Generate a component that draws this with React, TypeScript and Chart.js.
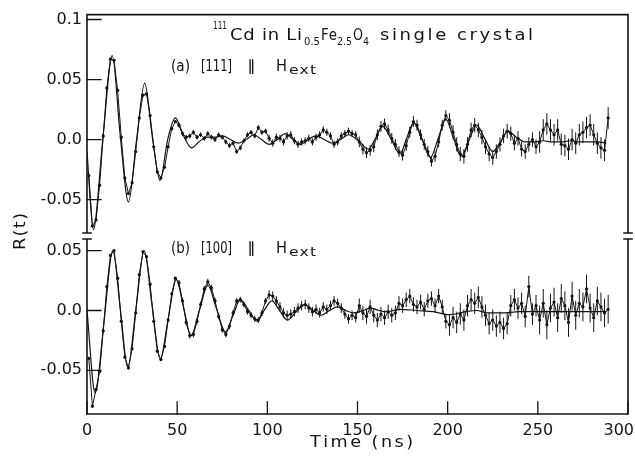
import React, { useEffect, useRef } from "react";
import { Chart, registerables } from "chart.js";

Chart.register(...registerables);

// ---------- axes ----------
const X_TICKS = [0, 50, 100, 150, 200, 250, 300];
const X_TICK_LABELS = ["0", "50", "100", "150", "200", "250", "300"];
const Y_TICKS_A = [-0.05, 0, 0.05, 0.1];
const Y_TICK_LABELS_A = ["-0.05", "0.0", "0.05", "0.1"];
const Y_TICKS_B = [-0.05, 0, 0.05];
const Y_TICK_LABELS_B = ["-0.05", "0.0", "0.05"];

// ---------- measured data: time grid (ns) ----------
const DATA_T_START = 1;
const DATA_T_STEP = 2;

// (a) [111] || Hext  — measured R(t)
const dataA = [
  -0.030, -0.072, -0.067, -0.038, 0.003, 0.043, 0.067, 0.066, 0.041, 0.002,
  -0.032, -0.045, -0.036, -0.010, 0.018, 0.037, 0.038, 0.020, -0.006, -0.027,
  -0.032, -0.023, -0.006, 0.009, 0.015, 0.012, 0.005, 0.002, 0.003, 0.006,
  0.002, 0.004, 0.001, 0.005, 0.002, 0.000, 0.004, 0.002, -0.002, -0.005,
  -0.003, -0.010, -0.007, -0.001, 0.004, 0.006, 0.003, 0.010, 0.006, 0.007,
  0.001, -0.003, 0.002, 0.001, -0.002, 0.003, 0.004, -0.001, -0.004, -0.002,
  -0.001, 0.001, -0.002, 0.002, 0.004, 0.008, 0.006, 0.003, -0.004, -0.002,
  0.003, 0.005, 0.007, 0.005, 0.004, -0.002, -0.008, -0.011, -0.009, -0.006,
  0.004, 0.011, 0.013, 0.008, 0.001, -0.004, -0.010, -0.013, -0.005, 0.006,
  0.015, 0.012, 0.004, -0.004, -0.010, -0.018, -0.014, -0.002, 0.012, 0.020,
  0.016, 0.006, -0.004, -0.012, -0.014, -0.004, 0.008, 0.012, 0.008, 0.002,
  -0.006, -0.012, -0.015, -0.010, -0.004, 0.003, 0.007, 0.005, -0.003, 0.001,
  -0.008, -0.010, -0.004, 0.000, -0.006, -0.002, 0.008, 0.013, 0.008, 0.004,
  0.008, -0.004, -0.005, -0.008, 0.000, -0.003, 0.004, 0.006, 0.010, 0.012,
  0.004, -0.003, -0.007, -0.009, 0.018,
];

// (b) [100] || Hext  — measured R(t)
const dataB = [
  -0.040, -0.080, -0.066, -0.051, -0.017, 0.020, 0.046, 0.050, 0.027, -0.009,
  -0.039, -0.048, -0.032, -0.002, 0.030, 0.049, 0.045, 0.022, -0.009, -0.034,
  -0.041, -0.030, -0.008, 0.014, 0.027, 0.023, 0.008, -0.010, -0.021, -0.020,
  -0.009, 0.005, 0.018, 0.024, 0.019, 0.008, -0.005, -0.016, -0.020, -0.013,
  -0.002, 0.008, 0.009, 0.005, -0.001, -0.004, -0.007, -0.008, -0.002, 0.008,
  0.013, 0.012, 0.008, 0.003, -0.002, -0.004, -0.003, -0.001, 0.002, 0.004,
  0.005, 0.002, -0.001, 0.001, -0.002, 0.003, 0.001, 0.004, 0.008, 0.006,
  0.002, -0.003, -0.007, -0.004, -0.006, 0.004, -0.002, -0.005, 0.003, -0.004,
  -0.008, -0.003, -0.006, -0.001, -0.004, -0.002, 0.006, 0.004, 0.009, 0.012,
  0.005, 0.003, 0.007, 0.001, 0.008, 0.010, 0.004, 0.012, 0.003, -0.009,
  -0.012, -0.006, -0.010, -0.003, -0.008, 0.004, 0.009, 0.006, 0.011, 0.003,
  -0.004, -0.011, -0.008, -0.013, -0.010, -0.015, -0.011, 0.004, 0.009, 0.002,
  0.006, -0.005, 0.020, -0.003, 0.004, -0.008, 0.006, -0.012, 0.002, 0.007,
  -0.006, 0.010, 0.004, -0.010, 0.012, -0.004, 0.006, 0.003, 0.018, 0.002,
  -0.006, 0.008, 0.003, -0.002, 0.001,
];

// error-bar half widths per 50 ns time bin
const ERR_BIN_EDGES = [0, 50, 100, 150, 200, 250];
const errA = [0.0012, 0.002, 0.003, 0.0045, 0.006, 0.009];
const errB = [0.0012, 0.0025, 0.004, 0.006, 0.009, 0.012];

// ---------- fitted curves (key points) ----------
const fitAT = [
  0, 3.5, 8.75, 14, 18.5, 23, 27.5, 32, 36.25, 40.5, 44.75, 49, 53.25, 58, 62,
  66.5, 70.5, 75, 79.5, 84, 88.25, 92.5, 96.75, 101, 105.5, 110, 114.25, 118.5,
  122.75, 127, 131.5, 136, 140.5, 145, 150.5, 156, 160, 164, 168.75, 173.5,
  177.25, 181, 185.75, 190.5, 194.75, 199, 203.25, 207.5, 211.75, 216, 220.5,
  225, 229.25, 233.5, 238, 243, 248, 253, 258, 263, 268, 273, 278, 283, 288,
];
const fitAR = [
  -0.010, -0.075, 0.000, 0.070, 0.002, -0.052, 0.000, 0.047, 0.002, -0.034,
  0.000, 0.018, 0.004, -0.007, -0.002, 0.002, 0.002, 0.003, 0.000, -0.003,
  0.000, 0.004, 0.000, -0.004, 0.000, 0.005, 0.000, -0.004, 0.000, 0.003,
  0.000, -0.003, 0.000, 0.004, -0.001, -0.008, 0.001, 0.011, 0.000, -0.012,
  0.001, 0.014, 0.000, -0.015, 0.001, 0.017, 0.001, -0.014, -0.001, 0.012,
  0.001, -0.010, -0.002, 0.007, 0.002, -0.002, -0.002, -0.001, -0.002, -0.002,
  -0.001, -0.002, -0.002, -0.002, -0.003,
];
const fitBT = [
  0, 4.5, 9.4, 14.3, 18.5, 22.6, 27.1, 31.7, 36.1, 40.6, 45, 49.5, 53.6, 57.7,
  62.3, 67, 71.9, 76.8, 81, 85, 89.7, 94.4, 98.2, 102.5, 106.8, 111, 116, 121,
  125.5, 130, 134.5, 139, 143.5, 148, 153, 157, 162, 166, 174, 183, 192, 201,
  210, 216, 222, 230, 240, 250, 260, 270, 280, 288,
];
const fitBR = [
  0.000, -0.069, -0.010, 0.050, 0.001, -0.048, 0.001, 0.050, 0.004, -0.041,
  -0.007, 0.026, 0.002, -0.021, 0.000, 0.021, 0.001, -0.018, -0.004, 0.009,
  0.000, -0.009, 0.000, 0.008, 0.000, -0.008, -0.001, 0.005, 0.000, -0.004,
  0.000, 0.003, 0.000, -0.002, 0.000, 0.002, 0.000, -0.001, 0.001, 0.000,
  -0.001, -0.0035, -0.001, 0.000, -0.002, -0.002, -0.001, -0.001, -0.001,
  -0.001, -0.001, -0.001,
];

const INK = "#141414";
const FONT = "'DejaVu Sans', sans-serif";

// draw text horizontally stretched (sx) and letter-spaced to fill a given width
function drawSpaced(ctx: CanvasRenderingContext2D, text: string, x: number, y: number, width: number, sxPref = 1) {
  const chars = Array.from(text);
  const ws = chars.map((c) => ctx.measureText(c).width);
  const total = ws.reduce((a, b) => a + b, 0);
  const sx = Math.min(sxPref, width / total);
  const gap = chars.length > 1 ? (width - total * sx) / (chars.length - 1) : 0;
  let cx = x;
  chars.forEach((c, i) => {
    ctx.save();
    ctx.translate(cx, y);
    ctx.scale(sx, 1);
    ctx.fillText(c, 0, 0);
    ctx.restore();
    cx += ws[i] * sx + gap;
  });
}

export default function App() {
  const ref = useRef<HTMLCanvasElement>(null);

  useEffect(() => {
    const canvas = ref.current!;
    const toPts = (vals: number[]) => vals.map((v, i) => ({ x: DATA_T_START + i * DATA_T_STEP, y: v }));
    const fitPts = (ts: number[], rs: number[]) => ts.map((t, i) => ({ x: t, y: rs[i] }));

    const errorBars = {
      id: "errorBars",
      afterDatasetsDraw(chart: any) {
        const ctx = chart.ctx;
        const a = chart.chartArea;
        ctx.save();
        ctx.beginPath();
        ctx.rect(a.left, a.top, a.right - a.left, a.bottom - a.top);
        ctx.clip();
        ctx.strokeStyle = INK;
        ctx.lineWidth = 1;
        chart.data.datasets.forEach((ds: any, di: number) => {
          if (!ds.errBins) return;
          const meta = chart.getDatasetMeta(di);
          const ys = chart.scales[ds.yAxisID];
          ds.data.forEach((p: any, i: number) => {
            let b = 0;
            for (let k = 0; k < ERR_BIN_EDGES.length; k++) if (p.x >= ERR_BIN_EDGES[k]) b = k;
            const e = ds.errBins[b];
            const x = meta.data[i].x;
            ctx.beginPath();
            ctx.moveTo(x, ys.getPixelForValue(p.y - e));
            ctx.lineTo(x, ys.getPixelForValue(p.y + e));
            ctx.stroke();
          });
        });
        ctx.restore();
      },
    };

    const frame = {
      id: "frame",
      afterDraw(chart: any) {
        const ctx = chart.ctx as CanvasRenderingContext2D;
        const a = chart.chartArea;
        const yA = chart.scales.yA;
        const yB = chart.scales.yB;
        const xs = chart.scales.x;
        const upper = yA.top < yB.top ? yA : yB;
        const j = upper.bottom;
        ctx.save();
        ctx.strokeStyle = INK;
        ctx.lineWidth = 1.6;
        ctx.lineCap = "square";
        ctx.beginPath();
        ctx.moveTo(a.left, a.top);
        ctx.lineTo(a.right, a.top);
        ctx.moveTo(a.left, a.bottom);
        ctx.lineTo(a.right, a.bottom);
        for (const x of [a.left, a.right]) {
          ctx.moveTo(x, a.top);
          ctx.lineTo(x, j - 3);
          ctx.moveTo(x, j + 3);
          ctx.lineTo(x, a.bottom);
          ctx.moveTo(x - 4, j - 3);
          ctx.lineTo(x + 4, j - 3);
          ctx.moveTo(x - 4, j + 3);
          ctx.lineTo(x + 4, j + 3);
        }
        ctx.stroke();
        ctx.lineWidth = 1.3;
        ctx.beginPath();
        Y_TICKS_A.forEach((v) => {
          const y = yA.getPixelForValue(v);
          ctx.moveTo(a.left, y);
          ctx.lineTo(a.left + 14, y);
        });
        Y_TICKS_B.forEach((v) => {
          const y = yB.getPixelForValue(v);
          ctx.moveTo(a.left, y);
          ctx.lineTo(a.left + 14, y);
        });
        X_TICKS.forEach((v) => {
          const x = xs.getPixelForValue(v);
          ctx.moveTo(x, a.bottom);
          ctx.lineTo(x, a.bottom - 12);
        });
        ctx.stroke();

        ctx.fillStyle = INK;
        ctx.textBaseline = "alphabetic";
        ctx.textAlign = "left";
        // x tick labels
        ctx.font = `16px ${FONT}`;
        X_TICKS.forEach((v, i) => {
          const lbl = X_TICK_LABELS[i];
          const w = ctx.measureText(lbl).width;
          let cx = xs.getPixelForValue(v);
          if (cx + w / 2 > chart.width - 1) cx = chart.width - 1 - w / 2;
          ctx.fillText(lbl, cx - w / 2, 435);
        });
        // x title
        drawSpaced(ctx, "Time (ns)", 310, 447, 103, 1.1);
        // y title
        ctx.save();
        ctx.translate(25, 250);
        ctx.rotate(-Math.PI / 2);
        drawSpaced(ctx, "R(t)", 0, 0, 37, 1.1);
        ctx.restore();

        // title
        const seg = (t: string, x: number, y: number, w: number, size: number) => {
          ctx.font = `${size}px ${FONT}`;
          drawSpaced(ctx, t, x, y, w, 1.2);
        };
        seg("111", 213, 29, 14, 10);
        seg("Cd in Li", 230, 40, 72, 15);
        seg("0.5", 304, 45, 16, 11);
        seg("Fe", 321, 40, 16, 15);
        seg("2.5", 337, 45, 15, 11);
        seg("O", 353, 40, 10, 15);
        seg("4", 363, 45, 6, 11);
        seg("single crystal", 380, 40, 153, 15);

        // panel labels
        const panel = (tag: string, dir: string, base: number) => {
          seg(tag, 171, base, 19, 15);
          seg(dir, 201, base, 31, 15);
          seg("\u2225", 247, base, 10, 15);
          seg("H", 276, base, 11, 15);
          seg("ext", 289, base + 3, 27, 13);
        };
        panel("(a)", "[111]", 71);
        panel("(b)", "[100]", 253);
        ctx.restore();
      },
    };

    const yCommon = (ticks: number[], labels: string[]) => ({
      type: "linear" as const,
      position: "left" as const,
      stack: "r",
      afterBuildTicks: (s: any) => {
        s.ticks = ticks.map((v) => ({ value: v }));
      },
      afterFit: (s: any) => {
        s.width = 87;
      },
      ticks: {
        padding: 5,
        color: INK,
        font: { family: FONT, size: 16 },
        callback: (_v: any, i: number) => labels[i],
      },
      grid: { display: false, drawTicks: false },
      border: { display: false },
    });

    const dataStyle = {
      showLine: true,
      borderColor: INK,
      borderWidth: 1,
      pointRadius: 1.6,
      pointBorderWidth: 0,
      pointBackgroundColor: INK,
    };
    const fitStyle = {
      showLine: true,
      borderColor: INK,
      borderWidth: 1.2,
      pointRadius: 0,
      cubicInterpolationMode: "monotone" as const,
    };

    const chart = new Chart(canvas, {
      type: "scatter",
      data: {
        datasets: [
          { data: toPts(dataA), yAxisID: "yA", ...dataStyle, errBins: errA } as any,
          { data: fitPts(fitAT, fitAR), yAxisID: "yA", ...fitStyle },
          { data: toPts(dataB), yAxisID: "yB", ...dataStyle, errBins: errB } as any,
          { data: fitPts(fitBT, fitBR), yAxisID: "yB", ...fitStyle },
        ],
      },
      options: {
        responsive: false,
        devicePixelRatio: 1,
        animation: false,
        layout: { padding: { top: 10, right: 7, left: 0, bottom: 0 } },
        plugins: { legend: { display: false }, tooltip: { enabled: false } },
        scales: {
          x: {
            type: "linear",
            min: 0,
            max: 300,
            afterBuildTicks: (s: any) => {
              s.ticks = X_TICKS.map((v) => ({ value: v }));
            },
            afterFit: (s: any) => {
              s.height = 46;
              s.paddingLeft = 0;
              s.paddingRight = 0;
            },
            ticks: { display: false },
            grid: { display: false, drawTicks: false },
            border: { display: false },
          },
          // listed bottom panel first: left-stacked axes are placed in reverse order
          yB: { ...yCommon(Y_TICKS_B, Y_TICK_LABELS_B), min: -0.0865, max: 0.0622, stackWeight: 180 },
          yA: { ...yCommon(Y_TICKS_A, Y_TICK_LABELS_A), min: -0.0804, max: 0.1041, stackWeight: 224 },
        } as any,
      },
      plugins: [errorBars, frame],
    });
    return () => chart.destroy();
  }, []);

  return (
    <div style={{ position: "absolute", left: 0, top: 0, width: 635, height: 460, background: "#fff" }}>
      <canvas ref={ref} width={635} height={460} style={{ display: "block" }} />
    </div>
  );
}
